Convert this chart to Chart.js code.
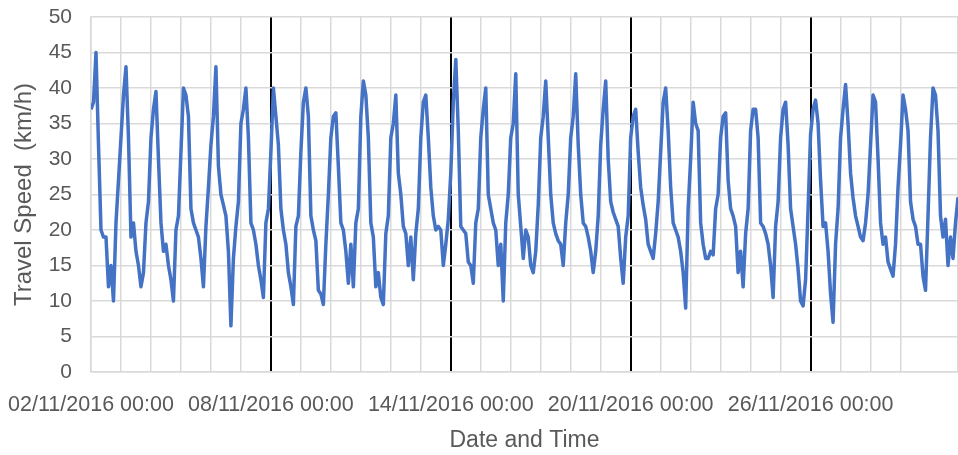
<!DOCTYPE html>
<html>
<head>
<meta charset="utf-8">
<script src="https://cdn.jsdelivr.net/npm/chart.js@4/dist/chart.umd.min.js"></script>
<style>
  html, body { margin: 0; padding: 0; background: #fff; }
  #wrap { width: 958px; height: 455px; }
</style>
</head>
<body>
<div id="wrap"><canvas id="canvas"></canvas></div>
<script>
// one reading every 2 hours, starting 02/11/2016 00:00
var hourStep = 2;

var speeds = [
  37, 38, 45, 32, 20, 19, 19, 12, 15, 10, 21, 27,       // 02/11
  33, 39, 43, 33, 19, 21, 17, 15, 12, 14, 21, 24,       // 03/11
  33, 37, 39.5, 30, 21, 17, 18, 15, 13, 10, 20, 22,     // 04/11
  31, 40, 39, 36, 23, 21, 20, 19, 16, 12, 20.5, 26,     // 05/11
  32, 36, 43, 29, 25, 23.5, 22, 17, 6.5, 16, 20.5, 24,  // 06/11
  35, 37, 40, 33, 21, 20, 18, 15, 13, 10.5, 21, 23,     // 07/11
  31, 40, 36, 32, 23, 20, 18, 14, 12, 9.5, 20.5, 22,    // 08/11
  31, 38, 40, 36, 22, 20, 18.5, 11.5, 11, 9.5, 18, 25,  // 09/11
  33, 36, 36.5, 29, 21, 20, 17, 12.5, 18, 12, 21, 23,   // 10/11
  36, 41, 39, 33, 21, 19, 12, 14, 10.5, 9.5, 19.5, 22,  // 11/11
  33, 35, 39, 28, 25, 20.5, 19.5, 15, 19, 13, 19.5, 23, // 12/11
  33, 38, 39, 33, 26, 22, 20, 20.5, 20, 15, 18, 21.5,   // 13/11
  28, 38, 44, 34, 20.5, 20, 19.5, 15.5, 15, 12.5, 21, 23, // 14/11
  33, 37, 40, 25, 23, 21, 20, 15, 18, 10, 21, 25,       // 15/11
  33, 35, 42, 25, 20.5, 16, 20, 19, 15, 14, 17, 23.5,   // 16/11
  33, 36, 41, 33, 25, 21, 19.5, 18.5, 18, 15, 21, 25,   // 17/11
  33, 36, 42, 32, 25, 21, 20.5, 19, 17, 14, 17, 22,     // 18/11
  32, 37, 41, 30, 24, 22.5, 21.5, 20.5, 16, 12.5, 19, 22, // 19/11
  33, 36, 37, 31, 26, 23.5, 21.5, 18, 17, 16, 19.5, 24, // 20/11
  31, 38, 40, 34, 26, 21, 20, 19, 17, 14, 9, 23,        // 21/11
  30, 38, 35, 34, 21, 18, 16, 16, 17, 16.5, 23, 25,     // 22/11
  33, 36, 36.5, 27, 23, 22, 20.5, 14, 17, 12, 19.5, 23, // 23/11
  34, 37, 37, 33, 21, 20.5, 19.5, 18, 15, 10.5, 20.5, 24, // 24/11
  33, 37, 38, 32, 23, 20.5, 18, 14.5, 10, 9.3, 13, 23,  // 25/11
  33.5, 37, 38.3, 35, 27, 20.5, 21, 17, 11, 7, 18, 23,  // 26/11
  33, 37, 40.5, 35, 28, 24.5, 22, 20.5, 19, 18.5, 21, 25, // 27/11
  32, 39, 38, 30, 21, 18, 19, 15.5, 14.5, 13.5, 18, 26, // 28/11
  32, 39, 37, 34, 24, 21.5, 20.5, 18, 18, 13.5, 11.5, 22, // 29/11
  33, 40, 39, 34, 22, 19, 21.5, 15, 19, 16, 21, 24.6    // 30/11
];

var tickLabels = ['02/11/2016 00:00', '08/11/2016 00:00', '14/11/2016 00:00',
                  '20/11/2016 00:00', '26/11/2016 00:00'];
var labelEvery = 144;   // hours between labelled ticks (6 days)

var points = speeds.map(function(v, i) {
    return { x: i * hourStep, y: v };
});

var grey = '#d9d9d9';
var textGrey = '#595959';
var fam = "'Liberation Sans', Arial, sans-serif";

// keep tick padding for the labels only, not for the chart edges
function noEdgePadding(scale) {
    scale.paddingLeft = 0;
    scale.paddingRight = 0;
    scale.paddingTop = 0;
    scale.paddingBottom = 0;
}

function isMajor(c) {
    return c.tick && c.tick.value > 0 && c.tick.value % labelEvery === 0;
}

window.onload = function() {
    var ctx = document.getElementById('canvas').getContext('2d');
    window.myLine = new Chart(ctx, {
        type: 'line',
        data: {
            datasets: [{
                label: 'Travel Speed',
                data: points,
                borderColor: '#4472C4',
                borderWidth: 3.5,
                pointRadius: 0,
                tension: 0,
                borderJoinStyle: 'round',
                fill: false
            }]
        },
        options: {
            responsive: true,
            maintainAspectRatio: false,
            animation: false,
            layout: { padding: { top: 17, right: 0, bottom: 0, left: 0 } },
            plugins: {
                legend: { display: false },
                tooltip: { enabled: false }
            },
            scales: {
                x: {
                    type: 'linear',
                    min: 0,
                    max: (speeds.length - 1) * hourStep,
                    afterFit: function(scale) {
                        scale.height = 83;
                        noEdgePadding(scale);
                    },
                    grid: {
                        drawTicks: false,
                        lineWidth: function(c) { return isMajor(c) ? 2 : 1.5; },
                        color: function(c) { return isMajor(c) ? '#000' : grey; }
                    },
                    border: { color: grey, width: 1.5 },
                    ticks: {
                        stepSize: 24,
                        autoSkip: false,
                        maxRotation: 0,
                        padding: 20,
                        color: textGrey,
                        font: { family: fam, size: 21.5 },
                        callback: function(value) {
                            if (value % labelEvery === 0) {
                                return tickLabels[value / labelEvery] || '';
                            }
                            return '';
                        }
                    },
                    title: {
                        display: true,
                        text: 'Date and Time',
                        color: textGrey,
                        font: { family: fam, size: 23 },
                        padding: { top: 0, bottom: 1 }
                    }
                },
                y: {
                    min: 0,
                    max: 50,
                    afterFit: function(scale) {
                        scale.width = 91;
                        noEdgePadding(scale);
                    },
                    grid: { drawTicks: false, color: grey, lineWidth: 1.5 },
                    border: { color: grey, width: 1.5 },
                    ticks: {
                        stepSize: 5,
                        padding: 19,
                        color: textGrey,
                        font: { family: fam, size: 21 }
                    },
                    title: {
                        display: true,
                        text: 'Travel Speed  (km/h)',
                        color: textGrey,
                        font: { family: fam, size: 24 },
                        padding: { top: 10, bottom: 0 }
                    }
                }
            }
        }
    });
};
</script>
</body>
</html>
